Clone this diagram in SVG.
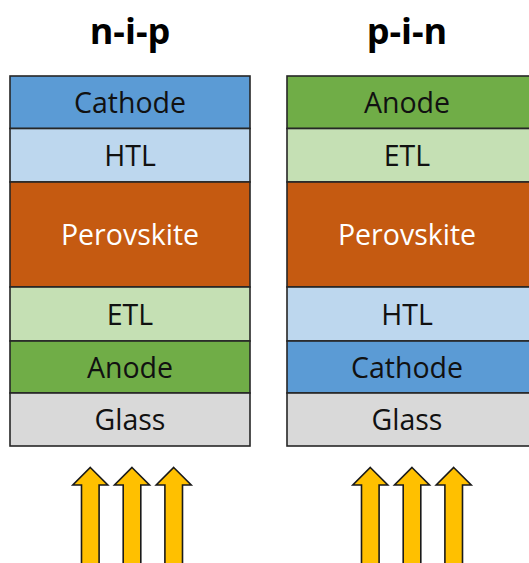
<svg xmlns="http://www.w3.org/2000/svg" width="529" height="563" viewBox="0 0 529 563">
<style>
.t{font-family:"Open Sans","Noto Sans",sans-serif;font-size:36px;font-weight:bold;fill:#000;text-anchor:middle}
.l{font-family:"Open Sans","Noto Sans",sans-serif;font-size:28.5px;fill:#111;text-anchor:middle}
.w{fill:#fff}
.b{stroke:#262626;stroke-width:1.6}
.cat{fill:#5B9BD5}.htl{fill:#BDD7EE}.per{fill:#C55A11}.etl{fill:#C5E0B4}.ano{fill:#70AD47}.gla{fill:#D9D9D9}
.arr{fill:#FFC000;stroke:#1a1a1a;stroke-width:1.6;stroke-linejoin:miter}
</style>
<defs>
<path id="a" d="M0,0 L17.5,17.5 L8.8,17.5 L8.8,100 L-8.8,100 L-8.8,17.5 L-17.5,17.5 Z"/>
</defs>
<rect width="529" height="563" fill="#fff"/>
<g id="nip">
<text class="t" x="130" y="44">n-i-p</text>
<rect class="cat b" x="10" y="76" width="240" height="52.5"/>
<rect class="htl b" x="10" y="128.5" width="240" height="53.5"/>
<rect class="per b" x="10" y="182" width="240" height="105"/>
<rect class="etl b" x="10" y="287" width="240" height="54"/>
<rect class="ano b" x="10" y="341" width="240" height="52"/>
<rect class="gla b" x="10" y="393" width="240" height="53"/>
<text class="l" x="130" y="113">Cathode</text>
<text class="l" x="130" y="165.5">HTL</text>
<text class="l w" x="130" y="244.5">Perovskite</text>
<text class="l" x="130" y="324.5">ETL</text>
<text class="l" x="130" y="377.5">Anode</text>
<text class="l" x="130" y="429.5">Glass</text>
</g>
<g id="pin">
<text class="t" x="407" y="44">p-i-n</text>
<rect class="ano b" x="287" y="76" width="260" height="52.5"/>
<rect class="etl b" x="287" y="128.5" width="260" height="53.5"/>
<rect class="per b" x="287" y="182" width="260" height="105"/>
<rect class="htl b" x="287" y="287" width="260" height="54"/>
<rect class="cat b" x="287" y="341" width="260" height="52"/>
<rect class="gla b" x="287" y="393" width="260" height="53"/>
<text class="l" x="407" y="113">Anode</text>
<text class="l" x="407" y="165.5">ETL</text>
<text class="l w" x="407" y="244.5">Perovskite</text>
<text class="l" x="407" y="324.5">HTL</text>
<text class="l" x="407" y="377.5">Cathode</text>
<text class="l" x="407" y="429.5">Glass</text>
</g>
<g id="light">
<use href="#a" class="arr" x="90.3" y="467.5"/>
<use href="#a" class="arr" x="132" y="467.5"/>
<use href="#a" class="arr" x="173.7" y="467.5"/>
<use href="#a" class="arr" x="370.3" y="467.5"/>
<use href="#a" class="arr" x="412" y="467.5"/>
<use href="#a" class="arr" x="453.7" y="467.5"/>
</g>
</svg>
